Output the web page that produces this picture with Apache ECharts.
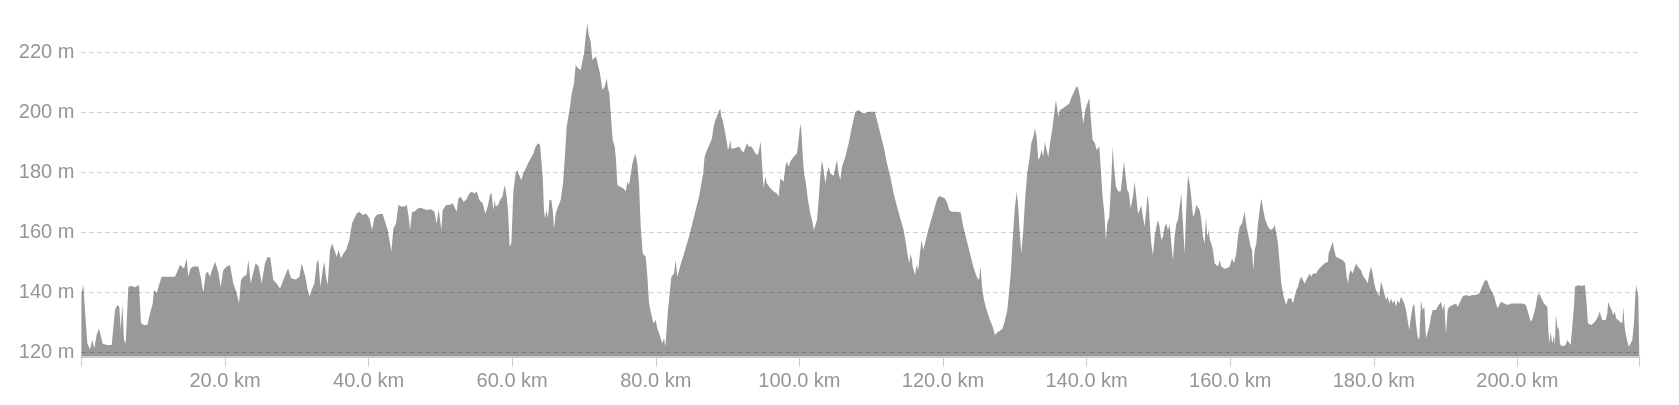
<!DOCTYPE html>
<html>
<head>
<meta charset="utf-8">
<script src="https://cdn.jsdelivr.net/npm/echarts@6/dist/echarts.min.js"></script>
<style>
html,body{margin:0;padding:0;background:#fff;}
#chart{width:1679px;height:405px;}
</style>
</head>
<body>
<div id="chart"></div>
<script>
// Elevation profile: [distance km, elevation m] in segments
const profile0to29 = [[0,139.8],[0.27,142.6],[0.5,134],[0.83,123.1],[1.2,121.1],[1.52,124.2],[1.8,121.4],[2.13,126],[2.45,128.1],[2.96,123.1],[3.52,122.6],[4.22,122.6],[4.45,123.1],[4.68,134.2],[5.0,135.9],[5.28,135.3],[5.47,127.6],[5.7,136.4],[5.93,124.2],[6.17,123.1],[6.54,142.0],[7.0,142.2],[7.5,141.8],[8.02,142.6],[8.3,129.8],[8.7,129.2],[9.18,129.2],[9.4,128.7],[9.55,133.1],[9.93,136.4],[10.11,140.9],[10.48,139.8],[10.81,142.6],[11.18,145.3],[12.0,145.3],[13.04,145.3],[13.3,145.9],[13.73,149.2],[14.0,148.7],[14.29,148.1],[14.66,151.4],[14.89,145.3],[15.2,148.1],[15.59,148.7],[15.82,149.2],[16.29,148.7],[16.61,145.3],[16.98,140.0],[17.31,146.4],[17.6,147.0],[17.91,145.3],[18.2,147.6],[18.61,150.3],[18.85,148.7],[19.1,146.4],[19.4,142.0],[19.77,147.6],[20.24,148.7],[20.7,149.2],[21.16,143.1],[21.63,139.8],[21.95,136.4],[22.23,144.2],[22.55,145.3],[23.0,145.9],[23.25,151.1],[23.58,143.1],[23.9,146.4],[24.27,149.8],[24.7,148.7],[25.11,143.1],[25.57,149.8],[25.9,151.8],[26.3,151.8],[26.73,144.2],[27.2,143.1],[27.66,141.4],[28.12,144.2],[28.78,148.1]];
const profile29to58 = [[28.87,148.7],[29.2,144.8],[29.89,144.4],[30.36,145.3],[30.68,149.8],[30.91,150.3],[31.19,145.3],[31.52,140.9],[31.75,138.7],[32.07,140.9],[32.45,143.1],[32.77,149.8],[33.0,151.1],[33.28,142.0],[33.61,147.6],[33.84,150.3],[34.07,145.3],[34.3,142.6],[34.63,154.2],[34.91,156.4],[35.23,154.2],[35.56,152.0],[35.84,154.2],[36.16,151.4],[36.49,153.1],[36.86,154.2],[37.32,157.6],[37.69,163.1],[38.02,164.8],[38.34,166.4],[38.71,167.0],[39.18,165.9],[39.64,166.4],[40.11,164.8],[40.48,160.9],[40.8,164.8],[41.13,165.9],[41.5,166.2],[41.96,166.2],[42.29,163.7],[42.66,160.9],[42.98,156.4],[43.17,153.7],[43.45,161.4],[43.82,163.1],[44.15,169.2],[44.52,168.7],[44.98,168.7],[45.31,169.2],[45.58,165.3],[45.77,160.9],[46.05,167.0],[46.37,167.0],[46.84,168.1],[47.3,168.3],[47.77,167.8],[48.23,167.6],[48.69,167.8],[49.16,167.0],[49.48,163.1],[49.76,167.8],[49.95,167.8],[50.13,160.9],[50.32,167.6],[50.78,169.2],[51.25,169.2],[51.71,169.8],[51.94,170.3],[52.27,167.0],[52.5,171.4],[52.87,172.0],[53.2,170.3],[53.57,170.9],[54.03,173.1],[54.36,173.7],[54.73,173.1],[55.06,173.7],[55.43,170.9],[55.89,169.8],[56.26,166.4],[56.59,168.7],[56.91,172.6],[57.1,173.3],[57.38,167.6],[57.56,170.9]];
const profile58to87 = [[57.7,168.7],[58.03,169.2],[58.31,170.9],[58.63,172.0],[58.96,175.9],[59.23,172.0],[59.42,167.6],[59.65,155.3],[59.88,156.4],[60.16,173.7],[60.49,179.8],[60.72,180.9],[60.95,179.2],[61.28,177.6],[61.56,179.8],[61.88,181.4],[62.2,183.1],[62.58,184.8],[62.95,186.4],[63.27,188.7],[63.6,189.8],[63.88,189.2],[64.11,188.7],[64.25,178.7],[64.43,167.6],[64.57,164.8],[64.8,167.6],[64.99,164.8],[65.18,170.9],[65.46,170.9],[65.64,167.6],[65.83,161.4],[66.06,166.4],[66.38,168.7],[66.75,170.9],[67.08,176.4],[67.31,184.2],[67.59,195.3],[67.78,198.1],[68.05,202.0],[68.29,206.4],[68.61,209.8],[68.84,215.9],[69.17,214.8],[69.54,214.2],[69.77,213.7],[70.0,219.8],[70.28,226.4],[70.47,229.8],[70.66,225.9],[70.93,223.7],[71.17,217.6],[71.4,217.0],[71.68,218.7],[71.95,218.1],[72.23,213.1],[72.56,207.6],[72.88,208.7],[73.16,211.4],[73.35,208.1],[73.53,206.4],[73.72,199.8],[74.0,190.9],[74.28,188.7],[74.46,184.2],[74.65,175.9],[75.02,175.3],[75.48,174.8],[75.81,173.7],[76.04,177.0],[76.27,175.9],[76.5,176.4],[76.74,183.1],[76.97,183.7],[77.15,186.4],[77.43,183.1],[77.66,176.4],[77.9,162.0],[78.18,153.1],[78.59,152.0],[78.83,145.3],[79.06,136.4],[79.29,133.7],[79.66,129.8],[79.99,130.9],[80.22,128.1],[80.54,125.9],[80.91,123.1],[81.15,124.8],[81.33,122.0],[81.52,122.6],[81.7,134.2],[81.89,138.7],[82.17,145.3],[82.54,146.4],[82.77,150.9],[83.0,145.3],[83.38,148.7],[83.93,153.1],[84.63,158.7],[85.32,165.3],[86.02,172.0],[86.6,179.8]];
const profile87to116 = [[86.8,185.3],[87.13,187.6],[87.45,189.2],[87.82,191.4],[88.05,195.3],[88.29,197.6],[88.52,198.7],[88.75,200.3],[88.98,201.4],[89.12,198.7],[89.31,197.6],[89.59,194.2],[89.77,192.0],[90.05,187.6],[90.24,188.7],[90.38,190.9],[90.52,188.1],[90.84,188.1],[91.3,188.4],[91.63,188.7],[91.91,187.6],[92.23,186.7],[92.47,186.4],[92.7,189.8],[92.93,188.7],[93.3,188.7],[93.63,187.6],[93.86,186.4],[94.23,185.9],[94.42,185.3],[94.6,190.3],[94.79,183.1],[95.02,174.8],[95.25,178.7],[95.48,176.4],[95.71,175.9],[95.95,174.8],[96.18,174.2],[96.41,173.7],[96.64,174.2],[96.88,173.1],[97.11,172.0],[97.34,178.1],[97.57,178.7],[97.8,177.0],[98.04,182.0],[98.27,183.7],[98.5,182.0],[98.73,183.7],[98.96,184.2],[99.2,185.3],[99.43,184.8],[99.66,186.4],[99.89,190.9],[100.13,196.4],[100.26,194.2],[100.45,186.4],[100.64,179.8],[100.91,176.4],[101.19,170.9],[101.52,166.4],[101.75,164.2],[102.03,160.9],[102.21,160.3],[102.45,164.2],[102.68,170.9],[102.91,178.7],[103.14,184.2],[103.38,180.9],[103.61,176.4],[103.84,179.8],[104.07,182.0],[104.3,179.8],[104.54,179.2],[104.77,179.0],[105.0,179.2],[105.23,184.2],[105.46,179.8],[105.7,177.6],[105.93,182.0],[106.39,185.3],[106.86,189.8],[107.32,195.3],[107.79,200.3],[108.25,200.9],[108.71,200.0],[109.18,199.8],[109.64,200.3],[110.11,200.3],[110.48,200.3],[110.8,197.6],[111.27,193.1],[111.73,188.7],[112.2,183.1],[112.66,178.7],[113.12,173.1],[113.59,168.7],[114.05,164.8],[114.52,160.9],[114.84,156.4],[115.12,152.0],[115.31,149.8],[115.49,153.1],[115.68,150.9]];
const profile116to145 = [[115.77,148.7],[116.1,145.9],[116.33,149.2],[116.56,147.6],[116.79,153.1],[117.02,157.6],[117.26,154.2],[117.49,156.4],[117.95,160.9],[118.42,164.8],[118.88,168.7],[119.21,171.4],[119.49,172.2],[119.81,172.0],[120.27,171.4],[120.6,169.8],[120.88,167.6],[121.2,167.0],[121.67,167.0],[122.13,167.0],[122.46,166.7],[122.83,162.0],[123.29,157.6],[123.76,153.1],[124.22,148.7],[124.69,145.3],[125.01,144.2],[125.24,148.7],[125.43,142.0],[125.71,137.6],[126.08,134.2],[126.54,130.9],[126.91,128.7],[127.24,125.9],[127.56,126.7],[127.93,127.3],[128.31,128.1],[128.63,130.9],[128.96,134.2],[129.23,140.9],[129.47,147.6],[129.7,157.6],[129.98,167.6],[130.26,173.7],[130.44,169.8],[130.63,162.0],[130.91,153.1],[131.18,160.9],[131.46,172.0],[131.74,179.8],[132.02,184.2],[132.3,189.8],[132.58,192.0],[132.81,194.8],[133.04,192.0],[133.27,184.2],[133.51,185.3],[133.74,187.6],[133.97,185.3],[134.2,190.3],[134.43,187.6],[134.67,185.3],[134.9,189.8],[135.27,195.3],[135.55,200.9],[135.73,204.2],[136.06,198.7],[136.29,200.9],[136.66,201.4],[136.99,202.0],[137.22,202.6],[137.59,203.1],[137.92,205.3],[138.15,206.4],[138.38,207.6],[138.61,208.9],[138.84,208.1],[139.08,205.3],[139.31,200.9],[139.54,196.4],[139.82,200.9],[140.1,203.1],[140.38,204.8],[140.56,198.7],[140.84,190.9],[141.17,189.8],[141.4,187.6],[141.77,188.7],[141.96,182.0],[142.23,172.0],[142.47,166.4],[142.7,157.6],[142.88,163.1],[143.16,165.3],[143.44,177.6],[143.63,188.7],[143.81,182.0],[144.09,175.3],[144.42,173.7]];
const profile145to174 = [[144.74,173.7],[144.93,177.6],[145.21,183.7],[145.39,179.8],[145.67,174.2],[145.9,173.1],[146.13,168.1],[146.46,172.0],[146.69,177.0],[146.92,172.0],[147.16,166.4],[147.39,167.6],[147.62,169.2],[147.85,165.3],[148.08,162.0],[148.32,167.6],[148.46,172.6],[148.64,169.8],[148.83,162.0],[149.01,156.4],[149.24,152.6],[149.48,158.7],[149.71,162.0],[149.94,164.2],[150.17,162.0],[150.41,157.6],[150.64,158.7],[150.87,162.0],[151.1,163.1],[151.33,160.9],[151.57,162.6],[151.8,156.4],[152.03,150.9],[152.26,158.7],[152.5,163.1],[152.73,164.2],[152.96,168.7],[153.19,173.1],[153.42,163.1],[153.66,153.1],[153.89,168.7],[154.12,179.2],[154.35,176.4],[154.58,172.0],[154.82,165.3],[155.05,166.4],[155.28,169.2],[155.51,169.8],[155.74,167.6],[155.98,164.2],[156.21,158.7],[156.44,156.4],[156.63,165.3],[156.81,158.7],[157.0,160.9],[157.18,157.6],[157.37,156.4],[157.6,154.2],[157.83,149.8],[158.07,149.2],[158.3,148.7],[158.53,150.9],[158.76,148.7],[159.13,148.1],[159.46,148.1],[159.92,148.7],[160.25,151.4],[160.53,149.8],[160.85,153.1],[161.08,158.7],[161.32,162.0],[161.64,163.1],[162.01,167.0],[162.29,162.0],[162.57,158.7],[162.85,155.3],[163.03,154.2],[163.22,147.6],[163.4,154.2],[163.64,156.4],[163.87,163.1],[164.1,167.6],[164.33,171.4],[164.61,167.6],[164.89,164.2],[165.26,162.0],[165.63,160.9],[165.96,161.4],[166.19,162.6],[166.42,159.8],[166.65,156.4],[166.89,149.8],[167.12,143.1],[167.35,139.8],[167.58,137.6],[167.81,135.9],[168.05,138.1],[168.28,138.7],[168.51,138.1],[168.74,136.4],[168.98,138.7],[169.21,140.9],[169.44,142.0],[169.67,144.2],[169.9,145.3],[170.14,144.8],[170.37,143.1],[170.6,144.2],[170.83,145.3],[171.06,146.4],[171.3,145.3],[171.53,146.4],[171.99,146.4],[172.23,147.6],[172.46,147.0],[172.69,148.7],[172.92,149.2],[173.15,149.8],[173.62,150.3]];
const profile174to203 = [[173.71,153.1],[174.04,155.3],[174.27,157.0],[174.5,154.2],[174.73,152.0],[175.2,151.4],[175.66,150.9],[176.03,149.8],[176.22,145.3],[176.4,143.1],[176.59,146.4],[176.82,147.6],[177.05,146.4],[177.29,148.1],[177.52,149.8],[177.75,148.7],[177.98,148.1],[178.21,147.6],[178.45,145.9],[178.68,145.3],[178.91,144.2],[179.14,143.1],[179.38,146.4],[179.61,148.7],[179.84,146.4],[180.07,143.1],[180.3,140.9],[180.54,139.8],[180.77,138.7],[181.0,143.7],[181.23,142.0],[181.46,139.8],[181.7,137.6],[181.93,138.7],[182.16,136.4],[182.39,138.1],[182.63,136.4],[182.86,137.6],[183.09,135.3],[183.32,137.6],[183.55,136.4],[183.79,138.7],[184.02,137.6],[184.25,136.4],[184.48,134.2],[184.71,130.9],[184.95,127.6],[185.18,132.0],[185.41,135.3],[185.64,136.4],[185.87,129.8],[186.11,125.3],[186.34,124.2],[186.57,137.6],[186.8,134.2],[187.04,135.3],[187.27,124.8],[187.5,124.2],[187.73,128.7],[187.96,132.0],[188.2,134.2],[188.43,134.8],[188.66,134.2],[188.89,135.3],[189.12,135.3],[189.36,137.0],[189.59,134.2],[189.82,136.4],[190.05,126.4],[190.29,134.2],[190.52,135.3],[190.75,134.8],[190.98,135.9],[191.21,135.3],[191.45,136.4],[191.68,135.3],[191.91,136.4],[192.14,137.6],[192.37,138.7],[192.84,139.2],[193.3,138.9],[193.77,139.2],[194.23,139.2],[194.7,139.8],[195.07,142.0],[195.39,143.7],[195.62,144.4],[195.86,143.7],[196.09,142.0],[196.32,140.9],[196.55,140.3],[196.78,138.7],[197.02,136.4],[197.25,134.8],[197.48,135.9],[197.71,137.0],[197.95,137.6],[198.18,136.4],[198.41,137.0],[198.64,135.9],[198.87,136.4],[199.11,136.4],[199.34,135.9],[199.57,136.4],[199.8,135.9],[200.03,136.4],[200.27,135.9],[200.73,136.4],[201.2,135.9],[201.43,135.3],[201.66,132.0],[201.89,130.3],[202.12,131.4],[202.36,130.9]];
const profile203to217 = [[202.54,135.3],[202.77,138.7],[203.01,139.8],[203.24,138.7],[203.47,137.6],[203.7,136.4],[203.93,135.9],[204.17,135.3],[204.31,127.6],[204.45,123.1],[204.63,127.0],[204.86,123.1],[205.1,125.9],[205.23,122.6],[205.37,132.6],[205.56,128.7],[205.79,127.6],[205.93,123.1],[206.12,122.2],[206.4,122.2],[206.72,122.6],[206.95,124.2],[207.18,124.2],[207.42,122.6],[207.65,123.1],[207.88,135.3],[208.02,142.0],[208.25,142.0],[208.48,142.6],[208.72,142.0],[208.95,142.2],[209.18,142.6],[209.41,142.6],[209.6,137.6],[209.83,129.8],[210.06,129.2],[210.3,129.2],[210.53,128.7],[210.81,130.3],[211.04,130.9],[211.22,132.0],[211.46,133.7],[211.6,132.6],[211.83,130.9],[212.06,130.3],[212.29,130.9],[212.52,133.1],[212.66,137.0],[212.9,135.3],[213.13,134.2],[213.36,132.6],[213.55,133.7],[213.78,131.4],[214.01,130.9],[214.29,130.3],[214.61,129.8],[214.75,135.3],[214.94,128.7],[215.12,125.9],[215.31,123.7],[215.54,122.0],[215.77,121.4],[216.0,124.2],[216.24,129.8],[216.42,138.7],[216.56,142.6],[216.7,142.0],[216.84,138.7],[216.98,138.1]];

const yTickValues = [120, 140, 160, 180, 200, 220];
const xTickStepKm = 20;
const totalDistanceKm = 216.98;

const profileData = [].concat(profile0to29, profile29to58, profile58to87, profile87to116,
  profile116to145, profile145to174, profile174to203, profile203to217);

const FONT = "'Liberation Sans', Arial, Helvetica, sans-serif";
const chart = echarts.init(document.getElementById('chart'), null, {renderer: 'canvas'});
chart.setOption({
  animation: false,
  backgroundColor: '#ffffff',
  grid: {left: 81.4, right: 39.7, top: 10, bottom: 48.5, containLabel: false, outerBoundsMode: 'none'},
  xAxis: {
    type: 'value',
    min: 0,
    max: totalDistanceKm,
    interval: xTickStepKm,
    z: 5,
    axisLine: {show: true, lineStyle: {color: '#cccccc', width: 2}},
    axisTick: {show: true, length: 10, lineStyle: {color: '#cccccc', width: 1}},
    splitLine: {show: false},
    axisLabel: {
      color: '#959595', fontSize: 20, fontFamily: FONT, margin: 15, hideOverlap: false,
      formatter: function (v) { return (v <= 0 || v > 210) ? '' : v.toFixed(1) + ' km'; }
    }
  },
  yAxis: {
    type: 'value',
    min: 118.73,
    max: 234.23,
    axisLine: {show: false},
    axisTick: {show: false, customValues: yTickValues},
    axisLabel: {
      color: '#959595', fontSize: 20, fontFamily: FONT, margin: 7,
      customValues: yTickValues,
      formatter: function (v) { return v + ' m'; }
    },
    splitLine: {show: true, lineStyle: {color: '#c8c8c8', width: 1, type: [4, 4]}}
  },
  series: [{
    type: 'line',
    data: profileData,
    showSymbol: false,
    symbol: 'none',
    lineStyle: {width: 0},
    areaStyle: {color: 'rgba(0,0,0,0.4)', opacity: 1, origin: 'start'},
    silent: true
  }]
});
</script>
</body>
</html>
